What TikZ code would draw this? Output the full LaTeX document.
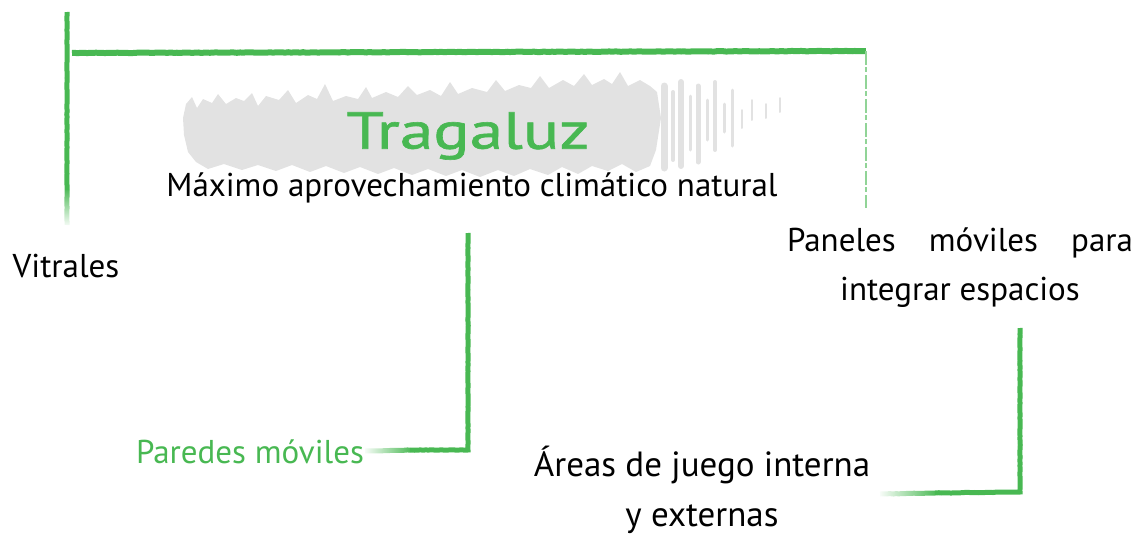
\documentclass[tikz,border=0pt]{standalone}
\usepackage{fontspec}
\setmainfont{PT Sans}
\newfontfamily\titlefont[FakeStretch=1.3,FakeBold=1.2]{PT Sans}
\usetikzlibrary{decorations.pathmorphing,fadings}
\definecolor{chalk}{RGB}{72,184,82}
\definecolor{brushgray}{RGB}{226,226,226}
\begin{document}
\begin{tikzpicture}[x=1pt,y=-1pt,
  chalkline/.style={draw=chalk, line width=5pt, decorate,
     decoration={random steps, segment length=3pt, amplitude=0.25pt}},
  thinchalk/.style={draw=chalk!60, line width=1.4pt,
     dash pattern=on 14pt off 2pt on 5pt off 3pt},
  brushstreak/.style={draw=brushgray, line cap=round},
  lbl/.style={inner sep=0pt, font=\fontsize{33}{49}\selectfont, text=black, align=center},
  glbl/.style={lbl, text=chalk},
  title/.style={inner sep=0pt, font=\titlefont\fontsize{52}{56}\selectfont, text=chalk}]
\pgfmathsetseed{7}
\useasboundingbox (0,0) rectangle (1136,539);

% grey brush stroke behind the title
\fill[brushgray] (184,135) -- (183,118) -- (186,104) -- (192,97) -- (197,108) -- (203,99) -- (212,103) -- (218,94) -- (226,104) -- (236,98) -- (244,101) -- (252,93) -- (258,106) -- (266,96) -- (279,100) -- (288,90) -- (296,103) -- (308,95) -- (317,99) -- (325,84) -- (333,101) -- (346,96) -- (358,99) -- (366,87) -- (372,98) -- (386,92) -- (398,97) -- (408,86) -- (417,95) -- (430,90) -- (441,96) -- (450,82) -- (458,94) -- (472,88) -- (487,92) -- (496,80) -- (505,91) -- (519,85) -- (531,88) -- (540,76) -- (549,88) -- (563,80) -- (574,86) -- (584,74) -- (592,85) -- (604,79) -- (612,84) -- (620,72) -- (628,86) -- (640,80) -- (650,86) -- (657,92) -- (661,118) -- (656,150) -- (650,166) -- (636,172) -- (622,164) -- (608,171) -- (592,166) -- (578,174) -- (562,167) -- (548,175) -- (530,169) -- (514,176) -- (498,170) -- (480,177) -- (462,170) -- (446,176) -- (428,169) -- (412,175) -- (394,168) -- (378,174) -- (360,167) -- (344,173) -- (326,166) -- (310,172) -- (292,165) -- (276,171) -- (258,165) -- (242,170) -- (224,164) -- (208,169) -- (196,162) -- (188,152) -- cycle;
\foreach \xa/\ya/\yb/\w in {664/86/168/7, 673/92/160/4, 681/82/166/6, 690/96/150/3, 698/86/162/5, 707/100/140/3, 715/82/150/4, 724/104/132/3, 732/90/146/3, 742/110/128/2, 752/100/120/2, 766/104/118/2, 780/98/112/2}
  \draw[brushstreak, line width=\w pt] (\xa,\ya) -- (\xa,\yb);

% texts
\node[title] (trag) at (468,136) {Tragaluz};
\node[lbl] (max) at (472,188) {Máximo aprovechamiento climático natural};
\node[lbl] (vit) at (66,266) {Vitrales};
\node[glbl] (par) at (250,452) {Paredes móviles};
\node[lbl] (pan) at (960,268) {\makebox[346pt][s]{Paneles\hfill móviles\hfill para}\\integrar espacios};
\node[lbl, font=\fontsize{35}{50}\selectfont] (are) at (702,490) {Áreas de juego interna\\y externas};

% connector coordinates
\coordinate (l1) at (67,12);
\coordinate (l2) at (67,190);
\coordinate (l3) at (67,225);
\coordinate (t1) at (72,53);
\coordinate (t2) at (866,51);
\coordinate (r1) at (866,208);
\coordinate (m1) at (468,233);
\coordinate (m2) at (468,450);
\coordinate (m3) at (410,450);
\coordinate (m4) at (365,451);
\coordinate (q1) at (1020,328);
\coordinate (q2) at (1020,492);
\coordinate (q3) at (935,493);
\coordinate (q4) at (880,494);

% left bracket
\draw[chalkline] (l1) -- (l2);
\draw[chalkline, path fading=south] (l2) -- (l3);
\draw[chalkline, line width=6pt] (t1) -- (t2);
\draw[thinchalk] (t2) -- (r1);
% middle bracket to "Paredes moviles"
\draw[chalkline] (m1) -- (m2) -- (m3);
\draw[chalkline, path fading=west] (m3) -- (m4);
% right bracket to "Areas de juego"
\draw[chalkline] (q1) -- (q2) -- (q3);
\draw[chalkline, path fading=west] (q3) -- (q4);
\end{tikzpicture}
\end{document}
